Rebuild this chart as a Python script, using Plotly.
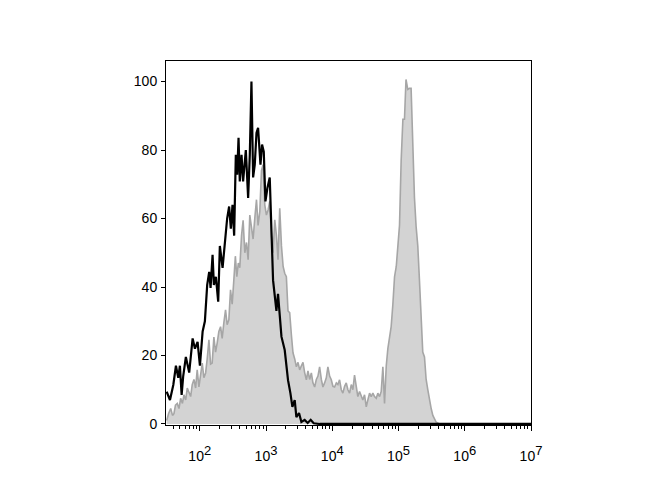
import plotly.graph_objects as go

# Fluorescence intensity (log10 units) and event counts (% of max)
isotype_log = [1.50, 1.55, 1.60, 1.64, 1.675, 1.70, 1.726, 1.75, 1.79, 1.84, 1.892, 1.927, 1.967,
               2.002, 2.043, 2.077, 2.112, 2.142, 2.163, 2.193, 2.213, 2.243, 2.278, 2.303, 2.344,
               2.379, 2.413, 2.443, 2.469, 2.494, 2.519, 2.544, 2.564, 2.585, 2.604, 2.63, 2.654,
               2.695, 2.73, 2.755, 2.78, 2.805, 2.83, 2.856, 2.88, 2.916, 2.94, 2.966, 2.991,
               3.022, 3.056, 3.106, 3.157, 3.181, 3.207, 3.233, 3.282, 3.332, 3.368, 3.398, 3.433,
               3.458, 3.498, 3.534, 3.583, 3.629, 3.674, 3.719, 3.81, 7.0]
isotype_count = [9.4, 7, 11.4, 17, 13.5, 17, 8.5, 14, 19.6, 15, 25, 22, 24,
                 17, 27, 30, 40.6, 44.4, 39.7, 49.4, 40.6, 43, 35.7, 52, 45.6,
                 53, 60, 63.5, 57, 64, 55, 78.6, 72.8, 83.6, 70.8, 78.6, 70.8,
                 80, 66, 78.6, 100, 72, 75.7, 85, 86.5, 75.7, 81.6, 79.5, 65,
                 69, 72, 42, 33, 38, 32, 25.5, 21.6, 12.8, 9, 5, 7,
                 2, 3.2, 0.6, 1.2, 0.3, 1.2, 0.2, 0, 0]

stained_log = [1.50, 1.528, 1.561, 1.588, 1.61, 1.633, 1.66, 1.686, 1.711, 1.738, 1.761, 1.787,
               1.811, 1.836, 1.862, 1.886, 1.912, 1.937, 1.961, 1.987, 2.013, 2.037, 2.062, 2.088,
               2.112, 2.138, 2.163, 2.187, 2.213, 2.238, 2.263, 2.288, 2.314, 2.338, 2.363, 2.389,
               2.413, 2.439, 2.464, 2.489, 2.514, 2.537, 2.559, 2.582, 2.604, 2.63, 2.654, 2.68,
               2.705, 2.73, 2.755, 2.78, 2.805, 2.83, 2.856, 2.88, 2.906, 2.931, 2.955, 2.981,
               3.006, 3.031, 3.056, 3.082, 3.106, 3.132, 3.157, 3.181, 3.207, 3.233, 3.258, 3.282,
               3.307, 3.332, 3.357, 3.383, 3.407, 3.433, 3.458, 3.483, 3.508, 3.534, 3.558, 3.583,
               3.609, 3.633, 3.659, 3.684, 3.708, 3.734, 3.759, 3.784, 3.809, 3.835, 3.859, 3.884,
               3.91, 3.934, 3.96, 3.985, 4.01, 4.035, 4.061, 4.085, 4.11, 4.136, 4.16, 4.186,
               4.211, 4.236, 4.261, 4.287, 4.311, 4.336, 4.362, 4.386, 4.412, 4.437, 4.461, 4.487,
               4.513, 4.537, 4.563, 4.588, 4.613, 4.638, 4.664, 4.688, 4.714, 4.739, 4.764, 4.789,
               4.815, 4.839, 4.864, 4.889, 4.915, 4.94, 4.966, 4.99, 5.015, 5.04, 5.066, 5.09,
               5.113, 5.14, 5.165, 5.19, 5.216, 5.241, 5.266, 5.291, 5.316, 5.342, 5.366, 5.392,
               5.417, 5.442, 5.467, 5.493, 5.518, 5.543, 5.569, 5.62, 7.0]
stained_count = [1.0, 3.0, 4.5, 2.5, 3.0, 5.5, 6.0, 4.5, 7.5, 6.0, 8.5, 7.0,
                 10.5, 9.0, 8.0, 11.5, 13.0, 10.5, 15.8, 10.8, 14.0, 17.8, 13.5, 14.9,
                 19.0, 24.6, 17.5, 17.8, 25.4, 21.0, 23.7, 27.0, 28.4, 25.0, 29.5, 33.3,
                 29.0, 30.4, 39.2, 35.0, 42.0, 49.0, 43.0, 47.0, 45.6, 55.0, 59.5, 50.0,
                 53.0, 48.0, 61.0, 57.6, 54.0, 60.0, 65.5, 58.0, 62.0, 74.0, 75.7, 64.0,
                 61.0, 62.5, 65.0, 55.0, 50.0, 59.6, 55.0, 48.0, 63.0, 52.0, 46.0, 44.0,
                 43.0, 33.0, 32.5, 26.0, 20.8, 19.0, 16.7, 18.0, 15.8, 17.0, 18.0, 15.0,
                 12.9, 15.5, 13.0, 14.9, 12.0, 10.8, 13.0, 14.0, 16.7, 13.0, 10.8, 12.0,
                 13.5, 16.7, 14.0, 12.9, 11.0, 10.8, 12.0, 11.5, 12.9, 10.0, 9.0, 11.0,
                 12.0, 10.0, 9.0, 11.5, 10.0, 14.3, 10.5, 8.0, 9.5, 8.0, 7.0, 8.5,
                 5.0, 7.0, 9.0, 8.0, 9.0, 8.0, 7.5, 9.0, 8.0, 9.5, 16.7, 6.0,
                 17.0, 22.0, 25.0, 28.4, 35.0, 43.0, 46.0, 52.9, 58.0, 77.0, 89.0, 89.0,
                 100.6, 97.7, 98.0, 98.0, 80.0, 66.0, 57.6, 52.0, 42.0, 33.0, 21.0, 19.6,
                 13.0, 10.0, 7.0, 4.5, 2.5, 1.5, 0.5, 0.0, 0.0]

x_tick_exponents = [2, 3, 4, 5, 6, 7]
y_tick_values = [0, 20, 40, 60, 80, 100]

iso_x = [10 ** v for v in isotype_log]
st_x = [10 ** v for v in stained_log]

fig = go.Figure()
fig.add_trace(go.Scatter(x=st_x, y=stained_count, mode="lines", fill="tozeroy",
                         fillcolor="#d3d3d3", line=dict(color="#a6a6a6", width=1.6),
                         showlegend=False, hoverinfo="skip"))
fig.add_trace(go.Scatter(x=iso_x, y=isotype_count, mode="lines",
                         line=dict(color="black", width=2.2),
                         showlegend=False, hoverinfo="skip"))

minor_vals = [m * 10 ** e for e in range(1, 7) for m in range(2, 10)]

fig.update_layout(
    width=654, height=484,
    margin=dict(l=158, r=131, t=53, b=67),
    paper_bgcolor="white", plot_bgcolor="white",
    font=dict(family="Liberation Sans, Arial, sans-serif", size=14, color="black"),
    xaxis=dict(type="log", range=[1.49, 7.0],
               tickvals=[10 ** e for e in x_tick_exponents],
               ticktext=["10<sup><span style='font-size:13px'>%d</span></sup>" % e
                         for e in x_tick_exponents],
               ticks="outside", ticklen=5, tickcolor="black", tickwidth=1,
               showgrid=False, zeroline=False,
               showline=True, linecolor="black", linewidth=1, mirror=True,
               ticklabelstandoff=13,
               tickfont=dict(size=14),
               minor=dict(tickvals=minor_vals, ticks="outside", ticklen=3,
                          tickcolor="black", showgrid=False)),
    yaxis=dict(range=[-0.3, 106], tickvals=y_tick_values,
               ticks="outside", ticklen=4, tickcolor="black",
               showgrid=False, zeroline=False,
               showline=True, linecolor="black", linewidth=1, mirror=True,
               ticklabelstandoff=1,
               tickfont=dict(size=14)),
)

fig.write_html("out.html")
